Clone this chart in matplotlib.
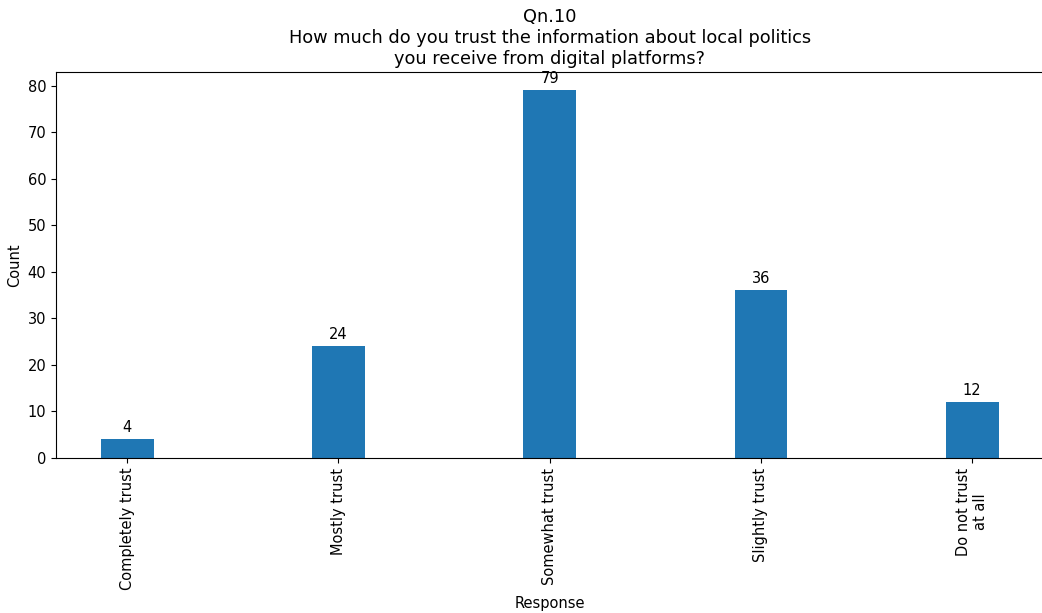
import matplotlib
matplotlib.use("Agg")
from matplotlib import pyplot as plt

responses = ["Completely trust", "Mostly trust", "Somewhat trust",
             "Slightly trust", "Do not trust\nat all"]
counts = [4, 24, 79, 36, 12]

plt.rcParams["font.size"] = 10.5

fig = plt.figure(figsize=(10.42, 6.13), dpi=100)
# right edge of the axes sits just past the image border, as in the original crop
ax = fig.add_axes([0.0537, 0.2529, 0.9477, 0.6296])

bars = ax.bar(range(len(responses)), counts, width=0.25, color="#1f77b4")
ax.bar_label(bars, padding=3)

ax.set_xticks(range(len(responses)))
ax.set_xticklabels(responses, rotation=90)
ax.set_xlabel("Response")
ax.set_ylabel("Count")
ax.set_title("Qn.10\nHow much do you trust the information about local politics\n"
             "you receive from digital platforms?", fontsize=12.8)
ax.spines["right"].set_visible(False)

fig.savefig("out.png", dpi=100)
